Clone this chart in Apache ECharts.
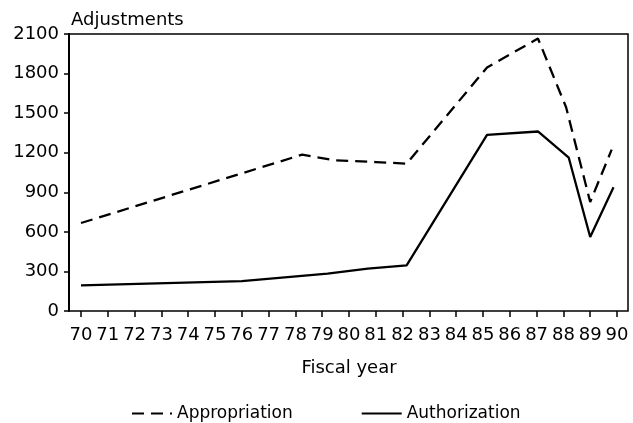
<!DOCTYPE html>
<html>
<head>
<meta charset="utf-8">
<script src="https://cdn.jsdelivr.net/npm/echarts@6/dist/echarts.min.js"></script>
<style>
  html, body { margin: 0; padding: 0; background: #fff; }
  #chart { width: 633px; height: 423px; }
</style>
</head>
<body>
<div id="chart"></div>
<script>
// Fiscal-year tick labels along the bottom axis
const yearTicks = [70, 71, 72, 73, 74, 75, 76, 77, 78, 79, 80, 81, 82, 83, 84, 85, 86, 87, 88, 89, 90];
// Vertical axis ticks
const adjustmentTicks = [0, 300, 600, 900, 1200, 1500, 1800, 2100];

// Appropriation adjustments (dashed line)
const appropriationYears  = [70,  78.25, 79.5, 81,   82.15, 85.15, 87.05, 88.1, 89,  89.8];
const appropriationValues = [667, 1185,  1142, 1129, 1117,  1846,  2066,  1545, 826, 1223];

// Authorization adjustments (solid line)
const authorizationYears  = [70,  76,  79.2, 80.7, 82.15, 85.15, 87.05, 88.2, 89,  89.87];
const authorizationValues = [195, 227, 283,  321,  346,   1336,  1361,  1162, 561, 939];

const font = 'DejaVu Sans, sans-serif';
const pairs = (xs, ys) => xs.map((x, i) => [x, ys[i]]);

const chart = echarts.init(document.getElementById('chart'), null, { renderer: 'canvas' });
chart.setOption({
  backgroundColor: '#fff',
  animation: false,
  title: {
    text: 'Adjustments',
    left: 66,
    top: 6,
    textStyle: { fontFamily: font, fontSize: 18, fontWeight: 'normal', color: '#000' }
  },
  legend: {
    left: 131,
    top: 405,
    padding: 0,
    itemWidth: 40,
    itemHeight: 14,
    itemGap: 68,
    // line-only keys: hide the marker drawn on top of the line
    itemStyle: { opacity: 0 },
    textStyle: { fontFamily: font, fontSize: 17, color: '#000' },
    data: ['Appropriation', 'Authorization']
  },
  grid: [
    // outer frame carrying the vertical axis
    { left: 69, right: 5, top: 34, bottom: 112, show: true, borderColor: '#000', borderWidth: 1.5,
      containLabel: false, outerBoundsMode: 'none' },
    // inner plotting band aligned with the year ticks
    { left: 81, right: 16, top: 34, bottom: 112, containLabel: false, outerBoundsMode: 'none' }
  ],
  xAxis: [
    { gridIndex: 0, type: 'value', show: false, min: 0, max: 1 },
    {
      gridIndex: 1, type: 'value',
      min: yearTicks[0], max: yearTicks[yearTicks.length - 1], interval: 1,
      name: 'Fiscal year', nameLocation: 'middle', nameGap: 48,
      nameTextStyle: { fontFamily: font, fontSize: 18, color: '#000' },
      axisLine: { show: false },
      axisTick: { show: true, length: 6, lineStyle: { color: '#000', width: 1.5 } },
      axisLabel: { fontFamily: font, fontSize: 18, color: '#000', margin: 15,
                   formatter: v => String(v) },
      splitLine: { show: false }
    }
  ],
  yAxis: [
    {
      gridIndex: 0, type: 'value',
      min: adjustmentTicks[0], max: adjustmentTicks[adjustmentTicks.length - 1], interval: 300,
      axisLine: { show: true, lineStyle: { color: '#000', width: 2 } },
      axisTick: { show: true, length: 5, lineStyle: { color: '#000', width: 1.5 } },
      axisLabel: { fontFamily: font, fontSize: 18, color: '#000', margin: 10,
                   formatter: v => String(v) },
      splitLine: { show: false }
    },
    {
      gridIndex: 1, type: 'value', show: false,
      min: adjustmentTicks[0], max: adjustmentTicks[adjustmentTicks.length - 1],
      splitLine: { show: false }
    }
  ],
  series: [
    {
      name: 'Appropriation', type: 'line', xAxisIndex: 1, yAxisIndex: 1,
      data: pairs(appropriationYears, appropriationValues),
      symbol: 'none', color: '#000',
      lineStyle: { color: '#000', width: 2.3, type: [12, 7] }
    },
    {
      name: 'Authorization', type: 'line', xAxisIndex: 1, yAxisIndex: 1,
      data: pairs(authorizationYears, authorizationValues),
      symbol: 'none', color: '#000',
      lineStyle: { color: '#000', width: 2.3, type: 'solid' }
    }
  ]
});
</script>
</body>
</html>
